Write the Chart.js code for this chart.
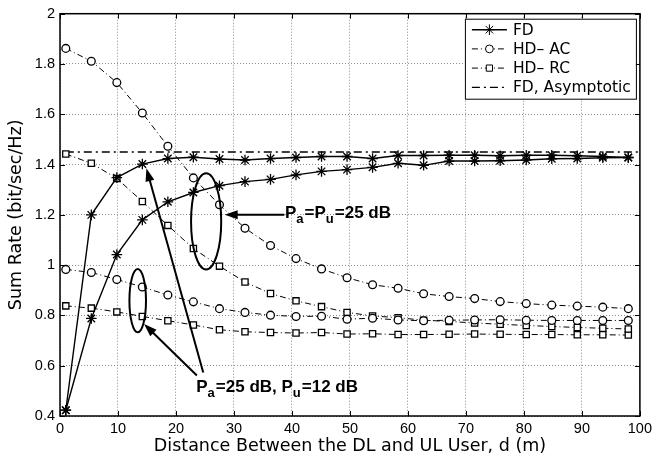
<!DOCTYPE html>
<html>
<head>
<meta charset="utf-8">
<script src="https://cdn.jsdelivr.net/npm/chart.js@4.4.1/dist/chart.umd.min.js"></script>
<style>
  html, body { margin: 0; padding: 0; background: #fff; }
  #wrap { width: 656px; height: 459px; }
</style>
</head>
<body>
<div id="wrap"><canvas id="rateChart" width="656" height="459"></canvas></div>
<script>
// distance between DL and UL user (m)
const distance = [1, 5.4, 9.8, 14.2, 18.6, 23.0, 27.5, 31.9, 36.3, 40.7, 45.1, 49.5,
  53.9, 58.3, 62.7, 67.1, 71.5, 75.9, 80.4, 84.8, 89.2, 93.6, 98];

// Pa=25 dB, Pu=12 dB
const fdPu12 = [0.423, 1.200, 1.348, 1.402, 1.424, 1.429, 1.422, 1.418, 1.424, 1.428, 1.432, 1.432,
  1.424, 1.436, 1.436, 1.437, 1.437, 1.435, 1.437, 1.437, 1.435, 1.432, 1.428];
const hdAcPu12 = [0.983, 0.971, 0.943, 0.913, 0.881, 0.854, 0.827, 0.812, 0.801, 0.796, 0.797, 0.785,
  0.789, 0.782, 0.779, 0.781, 0.782, 0.783, 0.781, 0.780, 0.780, 0.780, 0.780];
const hdRcPu12 = [0.838, 0.829, 0.814, 0.796, 0.779, 0.762, 0.743, 0.735, 0.732, 0.730, 0.732, 0.726,
  0.727, 0.724, 0.724, 0.725, 0.726, 0.725, 0.724, 0.724, 0.723, 0.723, 0.722];

// Pa=Pu=25 dB
const fdPu25 = [0.423, 0.788, 1.042, 1.180, 1.252, 1.289, 1.316, 1.332, 1.341, 1.359, 1.373, 1.380,
  1.389, 1.405, 1.397, 1.414, 1.414, 1.415, 1.418, 1.423, 1.424, 1.427, 1.428];
const hdAcPu25 = [1.862, 1.811, 1.726, 1.605, 1.473, 1.347, 1.240, 1.147, 1.078, 1.026, 0.985, 0.950,
  0.922, 0.908, 0.886, 0.875, 0.867, 0.855, 0.847, 0.841, 0.837, 0.833, 0.827];
const hdRcPu25 = [1.442, 1.405, 1.345, 1.253, 1.158, 1.066, 0.996, 0.933, 0.887, 0.858, 0.835, 0.812,
  0.798, 0.791, 0.781, 0.776, 0.770, 0.765, 0.760, 0.756, 0.752, 0.749, 0.746];

const asymptoticX = [1, 100];
const asymptoticY = [1.45, 1.45];

const xTicks = [0, 10, 20, 30, 40, 50, 60, 70, 80, 90, 100];
const yTicks = [0.4, 0.6, 0.8, 1, 1.2, 1.4, 1.6, 1.8, 2];

const FONT = "'Liberation Sans', Arial, Helvetica, sans-serif";
const WIDE = "'DejaVu Sans', Verdana, sans-serif";
Chart.defaults.font.family = FONT;
Chart.defaults.font.size = 14;
Chart.defaults.color = "#000";

const toPoints = (xs, ys) => xs.map((x, i) => ({ x: x, y: ys[i] }));

const dashDot = [6, 3, 1, 3];

function fdSet(label, values, inLegend) {
  return {
    label: label, data: toPoints(distance, values), inLegend: inLegend,
    borderColor: "#000", borderWidth: 1.4, pointStyle: "star", pointRadius: 5.3,
    pointBorderColor: "#000", pointBorderWidth: 1.3, pointBackgroundColor: "#000"
  };
}
function hdSet(label, values, style, radius, inLegend) {
  return {
    label: label, data: toPoints(distance, values), inLegend: inLegend,
    borderColor: "#000", borderWidth: 1, borderDash: dashDot,
    pointStyle: style, pointRadius: radius, pointBorderColor: "#000",
    pointBorderWidth: 1.3, pointBackgroundColor: "#fff"
  };
}

// annotation helpers, positions given in data units
function arrow(ctx, x, y, from, to) {
  const x0 = x.getPixelForValue(from[0]), y0 = y.getPixelForValue(from[1]);
  const x1 = x.getPixelForValue(to[0]), y1 = y.getPixelForValue(to[1]);
  const ang = Math.atan2(y1 - y0, x1 - x0);
  const len = 13, hw = 4.5;
  ctx.beginPath();
  ctx.moveTo(x0, y0);
  ctx.lineTo(x1 - Math.cos(ang) * len * 0.8, y1 - Math.sin(ang) * len * 0.8);
  ctx.stroke();
  ctx.beginPath();
  ctx.moveTo(x1, y1);
  ctx.lineTo(x1 - Math.cos(ang) * len - Math.sin(ang) * hw, y1 - Math.sin(ang) * len + Math.cos(ang) * hw);
  ctx.lineTo(x1 - Math.cos(ang) * len + Math.sin(ang) * hw, y1 - Math.sin(ang) * len - Math.cos(ang) * hw);
  ctx.closePath();
  ctx.fill();
}

function ellipse(ctx, x, y, c, r) {
  const cx = x.getPixelForValue(c[0]), cy = y.getPixelForValue(c[1]);
  const rx = Math.abs(x.getPixelForValue(c[0] + r[0]) - cx);
  const ry = Math.abs(y.getPixelForValue(c[1] + r[1]) - cy);
  ctx.beginPath();
  ctx.ellipse(cx, cy, rx, ry, 0, 0, Math.PI * 2);
  ctx.stroke();
}

// text with subscripts: parts = [text, isSub]
function richText(ctx, x, y, at, parts) {
  let px = x.getPixelForValue(at[0]);
  const py = y.getPixelForValue(at[1]);
  ctx.textBaseline = "alphabetic";
  ctx.textAlign = "left";
  parts.forEach(([t, sub]) => {
    ctx.font = sub ? "bold 13px " + FONT : "bold 17px " + FONT;
    ctx.fillText(t, px, sub ? py + 5 : py);
    px += ctx.measureText(t).width + (sub ? 1 : 0);
  });
}

const annotations = {
  id: "annotations",
  afterDatasetsDraw(chart) {
    const { ctx, scales: { x, y } } = chart;
    ctx.save();
    ctx.strokeStyle = "#000";
    ctx.fillStyle = "#000";
    ctx.lineWidth = 2;
    ellipse(ctx, x, y, [25.2, 1.174], [2.6, 0.191]);
    ellipse(ctx, x, y, [13.4, 0.859], [1.43, 0.126]);
    arrow(ctx, x, y, [38.7, 1.2], [28.4, 1.2]);
    arrow(ctx, x, y, [24.7, 0.573], [14.9, 1.385]);
    arrow(ctx, x, y, [23.6, 0.561], [14.5, 0.766]);
    richText(ctx, x, y, [38.8, 1.187],
      [["P", 0], ["a", 1], ["=P", 0], ["u", 1], ["=25 dB", 0]]);
    richText(ctx, x, y, [23.5, 0.495],
      [["P", 0], ["a", 1], ["=25 dB, P", 0], ["u", 1], ["=12 dB", 0]]);
    ctx.restore();
  }
};

const frame = {
  id: "frame",
  afterDraw(chart) {
    const { ctx, chartArea: a, scales: { x, y } } = chart;
    ctx.save();
    ctx.strokeStyle = "#000";
    ctx.lineWidth = 1;
    ctx.beginPath();
    xTicks.forEach(v => {
      const px = Math.round(x.getPixelForValue(v)) + 0.5;
      ctx.moveTo(px, a.bottom); ctx.lineTo(px, a.bottom - 5);
      ctx.moveTo(px, a.top); ctx.lineTo(px, a.top + 5);
    });
    yTicks.forEach(v => {
      const py = Math.round(y.getPixelForValue(v)) + 0.5;
      ctx.moveTo(a.left, py); ctx.lineTo(a.left + 5, py);
      ctx.moveTo(a.right, py); ctx.lineTo(a.right - 5, py);
    });
    ctx.stroke();
    ctx.lineWidth = 1.5;
    ctx.strokeRect(a.left, a.top, a.right - a.left, a.bottom - a.top);

    // legend box
    const items = chart.data.datasets.filter(d => d.inLegend);
    const w = 171, h = 80;
    const bx = a.right - 4 - w, by = a.top + 5;
    ctx.fillStyle = "#fff";
    ctx.fillRect(bx, by, w, h);
    ctx.lineWidth = 1;
    ctx.strokeRect(bx + 0.5, by + 0.5, w, h);
    items.forEach((d, i) => {
      const ry = by + 11 + i * 19.2;
      ctx.save();
      ctx.strokeStyle = "#000";
      ctx.lineWidth = d.borderWidth;
      ctx.setLineDash(d.borderDash || []);
      ctx.beginPath();
      ctx.moveTo(bx + 7, ry); ctx.lineTo(bx + 42, ry);
      ctx.stroke();
      ctx.restore();
      if (d.pointRadius > 0) {
        ctx.fillStyle = d.pointBackgroundColor;
        ctx.strokeStyle = "#000";
        Chart.helpers.drawPoint(ctx, {
          pointStyle: d.pointStyle, radius: d.pointRadius, rotation: 0,
          borderWidth: d.pointBorderWidth
        }, bx + 24.5, ry);
      }
      ctx.fillStyle = "#000";
      ctx.font = "15.5px " + WIDE;
      ctx.textBaseline = "middle";
      ctx.textAlign = "left";
      ctx.fillText(d.label, bx + 48, ry + 1);
    });
    ctx.restore();
  }
};

const rateChart = new Chart(document.getElementById("rateChart"), {
  type: "line",
  data: {
    datasets: [
      fdSet("FD", fdPu12, true),
      fdSet("FD", fdPu25, false),
      hdSet("HD\u2013 AC", hdAcPu25, "circle", 3.9, true),
      hdSet("HD\u2013 AC", hdAcPu12, "circle", 3.9, false),
      hdSet("HD\u2013 RC", hdRcPu25, "rect", 4.4, true),
      hdSet("HD\u2013 RC", hdRcPu12, "rect", 4.4, false),
      {
        label: "FD, Asymptotic", data: toPoints(asymptoticX, asymptoticY), inLegend: true,
        borderColor: "#000", borderWidth: 1.3, borderDash: [8, 4, 2, 4], pointRadius: 0
      }
    ]
  },
  options: {
    responsive: false,
    devicePixelRatio: 1,
    animation: false,
    layout: { padding: { left: 0, top: 11, right: 15, bottom: 0 } },
    elements: { line: { tension: 0, fill: false } },
    plugins: {
      legend: { display: false },
      tooltip: { enabled: false }
    },
    scales: {
      x: {
        type: "linear",
        min: 0,
        max: 100,
        afterBuildTicks: s => { s.ticks = xTicks.map(v => ({ value: v })); },
        afterFit: s => { s.height = 43; },
        ticks: { color: "#000", padding: 4, maxRotation: 0, autoSkip: false, font: { size: 14.5 } },
        grid: { color: "#8c8c8c", lineWidth: 1, drawTicks: false },
        border: { display: false, dash: [1, 2] },
        title: {
          display: true,
          text: "Distance Between the DL and UL User, d (m)",
          font: { size: 17.5, family: WIDE },
          padding: { top: 0, bottom: 2 }
        }
      },
      y: {
        min: 0.4,
        max: 2,
        afterBuildTicks: s => { s.ticks = yTicks.map(v => ({ value: v })); },
        afterFit: s => { s.width = 60; },
        ticks: { color: "#000", padding: 5, autoSkip: false, font: { size: 14.5 },
          callback: v => String(v) },
        grid: { color: "#8c8c8c", lineWidth: 1, drawTicks: false },
        border: { display: false, dash: [1, 2] },
        title: {
          display: true,
          text: "Sum Rate (bit/sec/Hz)",
          font: { size: 17.5, family: WIDE },
          padding: { top: 6, bottom: 0 }
        }
      }
    }
  },
  plugins: [annotations, frame]
});
</script>
</body>
</html>
